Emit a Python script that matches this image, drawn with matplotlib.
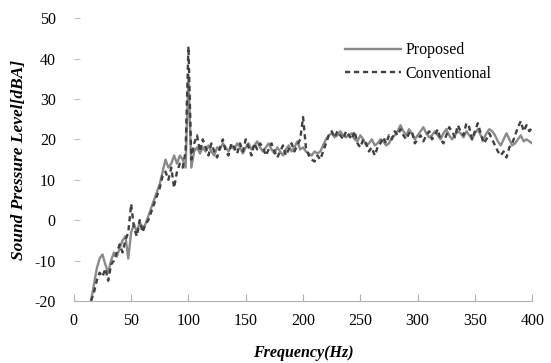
import numpy as np
import matplotlib.pyplot as plt

# frequency bins (Hz)
freq = np.arange(15, 400.1, 2.5)

# Proposed (solid line)
proposed = [
    -20, -16, -12, -9.5, -8.5, -11, -13, -10, -8, -9,
    -7, -5, -4, -9.5, -3, -1, -3, -0.5, -2, -1,
    1, 3, 5, 7, 9, 12, 15, 13, 14, 16,
    14, 16, 15, 13, 36, 13, 17, 18, 16.5, 18,
    17, 18.5, 17, 16, 18, 17.5, 19, 18, 17, 18.5,
    17.5, 19, 18, 16.5, 18, 19, 17.5, 18.5, 19.5, 18,
    17, 18, 19, 17.5, 16.5, 18, 17, 16, 17.5, 18.5,
    17, 18, 19.5, 17.5, 18, 17, 16.5, 16, 17, 16.5,
    17, 18.5, 20, 21, 21.5, 20.5, 21, 22, 21, 20.5,
    21, 21.5, 20, 19.5, 21, 20, 18.5, 19, 20, 18.5,
    19, 20, 19.5, 18.5, 19, 20.5, 21, 22, 23.5, 22,
    21, 22.5, 21.5, 20, 21, 22, 23, 21.5, 20.5, 21,
    22, 21, 20, 21.5, 22.5, 21, 20, 21, 22, 21.5,
    20.5, 22, 21, 20, 21.5, 22.5, 21, 20, 21.5, 22.5,
    22, 21, 19.5, 18.5, 20, 21.5, 20, 18.5, 19, 20,
    21, 19.5, 20, 19.5, 19,
]

# Conventional (dashed line)
conventional = [
    -20, -18, -15, -13, -14, -12, -15, -11, -10, -8,
    -6, -8, -5, -3, 4, -2, -4, 0, -3, -1,
    0, 2, 4, 6, 8, 11, 12, 10, 13, 8,
    12, 14, 13, 17, 43, 15, 19, 21, 17, 20,
    18, 16, 19, 17, 15.5, 18, 20, 17, 16, 19,
    18, 16.5, 19, 17, 20, 18, 16, 19, 17.5, 19,
    18, 16, 17.5, 19, 17, 15.5, 17, 18.5, 16, 17.5,
    19, 17, 18.5, 20, 25.5, 18, 16, 15, 14.5, 16,
    15, 17, 19, 21, 22, 20.5, 22, 21, 20, 22,
    21, 20, 22, 19, 18, 20, 19, 17, 18, 16,
    18, 19, 20.5, 19, 21, 20, 22, 21, 22.5, 21,
    20, 21.5, 22, 19, 20, 21, 19.5, 21, 22, 20,
    21, 22.5, 20, 19, 21, 23, 22, 20.5, 23.5, 22,
    21, 24, 23, 20, 22, 24, 21.5, 19, 20, 21.5,
    20, 18.5, 17, 16, 17, 15.5, 18, 19, 21, 23,
    24.5, 22, 23.5, 22, 23,
]

plt.rcParams['font.family'] = ['Liberation Serif', 'DejaVu Serif']
plt.rcParams['axes.unicode_minus'] = False

fig = plt.figure(figsize=(5.51, 3.63), dpi=100)
ax = fig.add_axes([0.134, 0.171, 0.832, 0.779])

ax.plot(freq, proposed, color='#8a8a8a', lw=1.7, label='Proposed')
ax.plot(freq, conventional, color='#404040', lw=1.7, ls=(0, (2.2, 1.6)), label='Conventional')

ax.set_xlim(0, 400)
ax.set_ylim(-20, 50)
ax.set_xticks(np.arange(0, 401, 50))
ax.set_yticks(np.arange(-20, 51, 10))

for s in ['top', 'right', 'left']:
    ax.spines[s].set_visible(False)
ax.spines['bottom'].set_color('#b0b0b0')
ax.tick_params(axis='x', direction='in', length=5, color='#b0b0b0', labelsize=11.5, pad=9)
ax.tick_params(axis='y', direction='in', length=4, color='#c0c0c0', labelsize=11.5, pad=13)

ax.set_xlabel('Frequency(Hz)', fontsize=11.5, fontweight='bold', style='italic', labelpad=11)
ax.set_ylabel('Sound Pressure Level[dBA]', fontsize=12.5, fontweight='bold', style='italic', labelpad=5)

ax.legend(loc='upper left', bbox_to_anchor=(0.56, 0.965), frameon=False,
          fontsize=11.5, handlelength=3.5, handletextpad=0.3, labelspacing=0.45)

fig.savefig('out.png', dpi=100)
